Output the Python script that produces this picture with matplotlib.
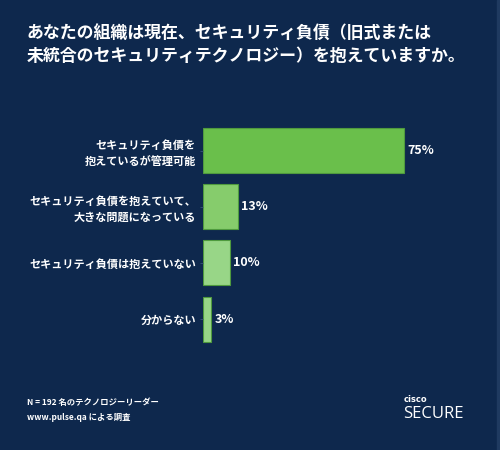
import matplotlib
matplotlib.use("Agg")
import matplotlib.pyplot as plt
from matplotlib.patches import Rectangle

plt.rcParams['font.family'] = ['Noto Sans CJK JP', 'DejaVu Sans']

title = "あなたの組織は現在、セキュリティ負債（旧式または\n未統合のセキュリティテクノロジー）を抱えていますか。"
categories = ["セキュリティ負債を\n抱えているが管理可能",
              "セキュリティ負債を抱えていて、\n大きな問題になっている",
              "セキュリティ負債は抱えていない",
              "分からない"]
values = [75, 13, 10, 3]
colors = ["#6abf4b", "#86cc6c", "#98d687", "#98d687"]
footer1 = "N = 192 名のテクノロジーリーダー"
footer2 = "www.pulse.qa による調査"

bg = "#0e284d"
fig = plt.figure(figsize=(5, 4.5), dpi=100, facecolor=bg)
fig.patches.append(Rectangle((0.994, 0), 0.006, 1, transform=fig.transFigure,
                             color="#1f3a60", zorder=0))

ax = fig.add_axes([203/500, 1-347.2/450, 268/500, (347.2-122.4)/450])
ax.set_facecolor(bg)
ypos = list(range(len(values)))
ax.barh(ypos, values, height=0.8, color=colors, edgecolor="#4f9a3e", linewidth=0.8)
ax.set_xlim(0, 100)
ax.set_ylim(len(values)-0.5, -0.5)
for s in ax.spines.values():
    s.set_visible(False)
ax.set_xticks([])
ax.set_yticks(ypos)
ax.set_yticklabels(categories, color="white", fontsize=8, fontweight="bold",
                   linespacing=1.25)
ax.tick_params(axis='y', length=2, width=0.6, color="#3a5578", pad=3)
for y, v in zip(ypos, values):
    ax.text(v + 1.3, y, f"{v}%", color="white", fontsize=9, fontweight="bold",
            va="center", ha="left")

fig.text(27/500, 1-45/450, title, color="white", fontsize=12.2, fontweight="bold",
         va="center", ha="left", linespacing=1.3)
fig.text(27/500, 1-402/450, footer1, color="white", fontsize=6, fontweight="bold",
         va="center", ha="left")
fig.text(27/500, 1-418/450, footer2, color="white", fontsize=6, fontweight="bold",
         va="center", ha="left")
fig.text(404/500, 1-400/450, "cisco", color="white", fontsize=6, fontweight="bold",
         va="center", ha="left", family=["DejaVu Sans"])
fig.text(403/500, 1-414/450, "SECURE", color="white", fontsize=12,
         va="center", ha="left", family=["Open Sans", "DejaVu Sans"])

fig.savefig("out.png", dpi=100, facecolor=bg)
